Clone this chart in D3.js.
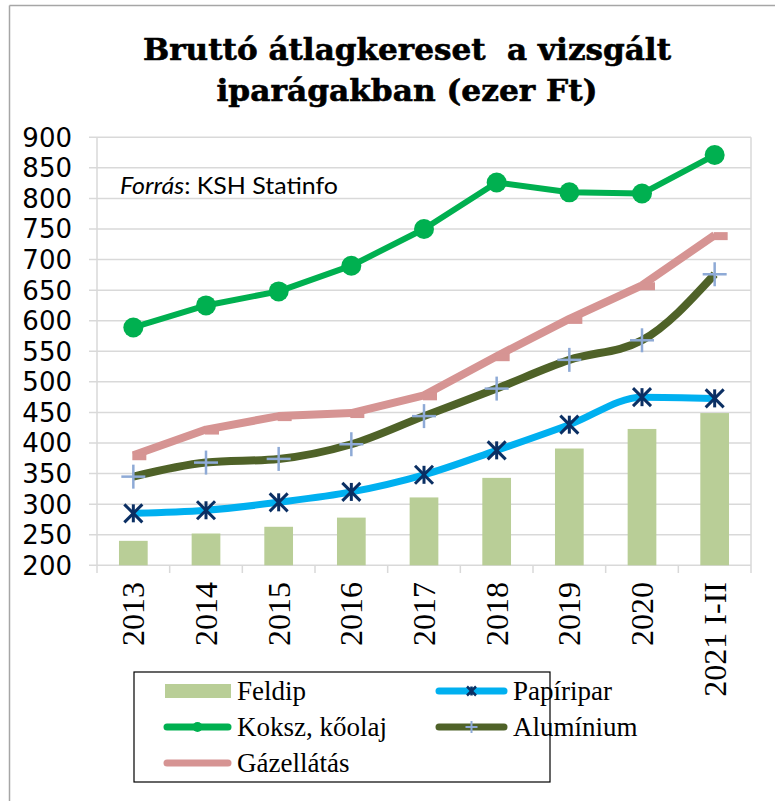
<!DOCTYPE html>
<html><head><meta charset="utf-8">
<script src="https://cdn.jsdelivr.net/npm/d3@7"></script>
<style>body{margin:0;background:#fff}svg{display:block}</style>
</head><body>
<svg id="c" width="775" height="801"></svg>
<script>
const categories = ["2013","2014","2015","2016","2017","2018","2019","2020","2021 I-II"];
const feldip     = [240, 252, 263, 278, 311, 343, 391, 423, 449];
const papiripar  = [285, 290, 303, 320, 348, 388, 430, 475, 473];
const koksz      = [589, 625, 648, 690, 750, 826, 810, 808, 871];
const aluminium  = [345, 368, 374, 398, 444, 489, 536, 568, 676];
const gazellatas = [380, 422, 444, 449, 478, 542, 603, 658, 740];
const yTicks = [200,250,300,350,400,450,500,550,600,650,700,750,800,850,900];
const titleLines = ["Bruttó átlagkereset  a vizsgált", "iparágakban (ezer Ft)"];

const svg = d3.select("#c");
const L = 97, R = 751, T = 137.3, B = 565.3;

// outer border (top + left)
svg.append("line").attr("x1",9.5).attr("x2",775).attr("y1",5.5).attr("y2",5.5).attr("stroke","#a6a6a6").attr("stroke-width",1.5);
svg.append("line").attr("x1",9.5).attr("x2",9.5).attr("y1",5.5).attr("y2",801).attr("stroke","#a6a6a6").attr("stroke-width",1.5);

// title
svg.selectAll("text.title").data(titleLines).enter().append("text")
  .attr("x",407).attr("y",(d,i)=>60+i*41)
  .attr("text-anchor","middle").style("white-space","pre")
  .attr("font-family","DejaVu Serif").attr("font-weight","bold").attr("font-size",30)
  .attr("stroke","#000").attr("stroke-width",0.6)
  .attr("textLength",(d,i)=>i===0?528:381).attr("lengthAdjust","spacingAndGlyphs")
  .text(d=>d);

const x = d3.scaleBand().domain(categories).range([L,R]).paddingInner(0).paddingOuter(0);
const y = d3.scaleLinear().domain([200,900]).range([B,T]);
const cx = c => x(c) + x.bandwidth()/2;

// gridlines
svg.append("g").selectAll("line").data(yTicks).enter().append("line")
  .attr("x1",89).attr("x2",R).attr("y1",d=>y(d)).attr("y2",d=>y(d))
  .attr("stroke","#d9d9d9").attr("stroke-width",1.5);
// left axis line & right border
svg.append("line").attr("x1",L).attr("x2",L).attr("y1",T).attr("y2",573).attr("stroke","#d9d9d9").attr("stroke-width",1.5);
svg.append("line").attr("x1",R).attr("x2",R).attr("y1",T).attr("y2",573).attr("stroke","#d9d9d9").attr("stroke-width",1.5);
// category ticks
svg.append("g").selectAll("line").data(categories.slice(1)).enter().append("line")
  .attr("x1",d=>x(d)).attr("x2",d=>x(d)).attr("y1",B).attr("y2",573)
  .attr("stroke","#d9d9d9").attr("stroke-width",1.5);

// y labels
svg.append("g").selectAll("text").data(yTicks).enter().append("text")
  .attr("x",72).attr("y",d=>y(d)).attr("dy","0.36em").attr("text-anchor","end")
  .attr("font-family","DejaVu Sans").attr("font-size",26).attr("fill","#000")
  .text(d=>d);

// x labels
svg.append("g").selectAll("text").data(categories).enter().append("text")
  .attr("transform",d=>`translate(${cx(d)+11},582) rotate(-90)`)
  .attr("text-anchor","end")
  .attr("font-family","Liberation Serif").attr("font-size",32).attr("fill","#000")
  .text(d=>d);

// bars
const bw = x.bandwidth()*0.395;
svg.append("g").selectAll("rect").data(feldip).enter().append("rect")
  .attr("x",(d,i)=>cx(categories[i])-bw/2).attr("width",bw)
  .attr("y",d=>y(d)).attr("height",d=>B-y(d)).attr("fill","#b9ce97");

function pts(arr){ return arr.map((v,i)=>[cx(categories[i]), y(v)]); }

// Gázellátás
const gp = pts(gazellatas);
svg.append("path").attr("d",d3.line()(gp)).attr("fill","none")
  .attr("stroke","#d69493").attr("stroke-width",8).attr("stroke-linejoin","round");
svg.append("g").selectAll("rect").data(gp).enter().append("rect")
  .attr("x",d=>d[0]-1).attr("y",d=>d[1]-3).attr("width",14).attr("height",8).attr("fill","#d69493");

// Alumínium
const ap = pts(aluminium);
svg.append("path").attr("d",d3.line().curve(d3.curveMonotoneX)(ap)).attr("fill","none")
  .attr("stroke","#4f6228").attr("stroke-width",8).attr("stroke-linejoin","round");
const plus = svg.append("g");
ap.forEach(p=>{
  plus.append("line").attr("x1",p[0]-12).attr("x2",p[0]+12).attr("y1",p[1]).attr("y2",p[1]).attr("stroke","#8eaad6").attr("stroke-width",2.5);
  plus.append("line").attr("x1",p[0]).attr("x2",p[0]).attr("y1",p[1]-12).attr("y2",p[1]+12).attr("stroke","#8eaad6").attr("stroke-width",2.5);
});

// Papíripar
const pp = pts(papiripar);
svg.append("path").attr("d",d3.line().curve(d3.curveMonotoneX)(pp)).attr("fill","none")
  .attr("stroke","#00b0f0").attr("stroke-width",7).attr("stroke-linejoin","round");
const star = svg.append("g");
pp.forEach(p=>{
  const s=9;
  star.append("line").attr("x1",p[0]-s).attr("x2",p[0]+s).attr("y1",p[1]-s).attr("y2",p[1]+s).attr("stroke","#0b2f63").attr("stroke-width",3);
  star.append("line").attr("x1",p[0]-s).attr("x2",p[0]+s).attr("y1",p[1]+s).attr("y2",p[1]-s).attr("stroke","#0b2f63").attr("stroke-width",3);
  star.append("line").attr("x1",p[0]).attr("x2",p[0]).attr("y1",p[1]-s).attr("y2",p[1]+s).attr("stroke","#0b2f63").attr("stroke-width",3);
});

// Koksz
const kp = pts(koksz);
svg.append("path").attr("d",d3.line()(kp)).attr("fill","none")
  .attr("stroke","#00b050").attr("stroke-width",6).attr("stroke-linejoin","round");
svg.append("g").selectAll("circle").data(kp).enter().append("circle")
  .attr("cx",d=>d[0]).attr("cy",d=>d[1]).attr("r",10).attr("fill","#00b050");

// source note
const src = svg.append("text").attr("x",120).attr("y",194)
  .attr("font-family","Lato").attr("font-size",23.5).attr("fill","#000")
  .attr("textLength",218).attr("lengthAdjust","spacingAndGlyphs");
src.append("tspan").attr("font-style","italic").text("Forrás");
src.append("tspan").text(": KSH Statinfo");

// legend
svg.append("rect").attr("x",134).attr("y",672).attr("width",416).attr("height",110)
  .attr("fill","#fff").attr("stroke","#000").attr("stroke-width",1.2);
const legend = [
  {name:"Feldip", type:"bar", col:0, row:0},
  {name:"Papíripar", type:"pap", col:1, row:0},
  {name:"Koksz, kőolaj", type:"kok", col:0, row:1},
  {name:"Alumínium", type:"alu", col:1, row:1},
  {name:"Gázellátás", type:"gaz", col:0, row:2}
];
const lg = svg.append("g");
legend.forEach(d=>{
  const x0 = d.col===0 ? 164 : 436, x1 = d.col===0 ? 231 : 507;
  const yc = 691 + d.row*36;
  const g = lg.append("g");
  if(d.type==="bar"){
    g.append("rect").attr("x",x0+1).attr("y",yc-7).attr("width",x1-x0-1).attr("height",14).attr("fill","#b9ce97");
  } else {
    const col = {pap:"#00b0f0",kok:"#00b050",alu:"#4f6228",gaz:"#d69493"}[d.type];
    g.append("line").attr("x1",x0+3).attr("x2",x1-3).attr("y1",yc).attr("y2",yc)
      .attr("stroke",col).attr("stroke-width",7).attr("stroke-linecap","round");
    const mx=(x0+x1)/2;
    if(d.type==="kok") g.append("circle").attr("cx",mx).attr("cy",yc).attr("r",5).attr("fill",col);
    if(d.type==="alu"){
      g.append("line").attr("x1",mx-6).attr("x2",mx+6).attr("y1",yc).attr("y2",yc).attr("stroke","#8eaad6").attr("stroke-width",2);
      g.append("line").attr("x1",mx).attr("x2",mx).attr("y1",yc-6).attr("y2",yc+6).attr("stroke","#8eaad6").attr("stroke-width",2);
    }
    if(d.type==="pap"){
      const s=4.5;
      [[-s,-s,s,s],[-s,s,s,-s],[0,-s,0,s]].forEach(a=>g.append("line").attr("x1",mx+a[0]).attr("y1",yc+a[1]).attr("x2",mx+a[2]).attr("y2",yc+a[3]).attr("stroke","#0b2f63").attr("stroke-width",2.5));
    }
  }
  g.append("text").attr("x",x1+6).attr("y",yc+8.5)
    .attr("font-family","Liberation Serif").attr("font-size",27).attr("fill","#000").text(d.name);
});
</script>
</body></html>
